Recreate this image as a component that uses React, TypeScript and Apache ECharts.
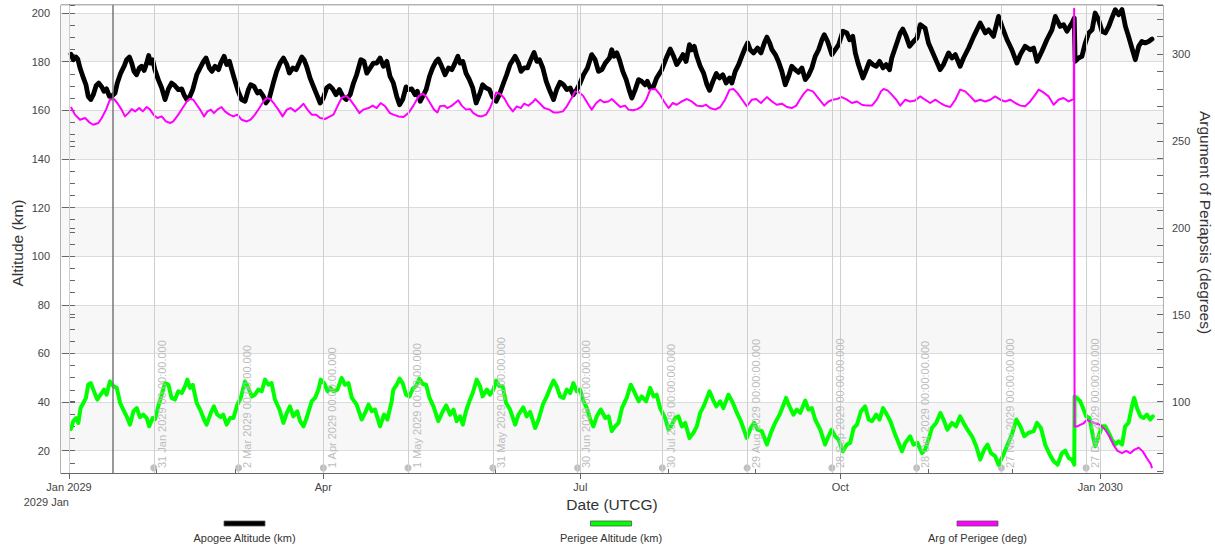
import React, { useEffect, useRef } from 'react';
import * as echarts from 'echarts';

const FONT = 'Arial, "Liberation Sans", Helvetica, sans-serif';

const SERIES_NAMES = ['Apogee Altitude (km)', 'Perigee Altitude (km)', 'Arg of Perigee (deg)'];
const SERIES_COLORS = ['#000000', '#00ff00', '#ff00ff'];

// x axis in days since 1 Jan 2029 00:00 UTCG
const X_MIN = -2.83;
const X_MAX = 387.2;
const QUARTER_DAYS = [0, 90, 181, 273, 365];
const QUARTER_LABELS = ['Jan 2029', 'Apr', 'Jul', 'Oct', 'Jan 2030'];
const YEAR_LABEL = '2029 Jan';
const MONTH_DAYS = [0, 31, 59, 90, 120, 151, 181, 212, 243, 273, 304, 334, 365];
const MARKER_DAYS = [30, 60, 90, 120, 150, 180, 210, 240, 270, 300, 330, 360];
const MARKER_LABELS = [
  '31 Jan 2029 00:00:00.000', '2 Mar 2029 00:00:00.000', '1 Apr 2029 00:00:00.000',
  '1 May 2029 00:00:00.000', '31 May 2029 00:00:00.000', '30 Jun 2029 00:00:00.000',
  '30 Jul 2029 00:00:00.000', '29 Aug 2029 00:00:00.000', '28 Sep 2029 00:00:00.000',
  '28 Oct 2029 00:00:00.000', '27 Nov 2029 00:00:00.000', '27 Dec 2029 00:00:00.000',
];
const CURRENT_DAY = 15.6;
const DOT_LEVEL = 12.9;

const ALT_MIN = 10.8;
const ALT_MAX = 203.3;
const ARG_MIN = 58.9;
const ARG_MAX = 328.2;

// [day, km]
const APOGEE = [
  [0.7,183.1],[1.5,180.8],[2.5,181.9],[3.1,181.1],[3.9,177.4],[5.1,173.3],[6.0,170.5],[6.8,165.7],[7.7,164.4],[8.6,166.4],[9.6,170.1],[10.5,171.2],[11.6,169.6],[12.4,167.8],[13.3,168.8],[14.3,165.7],[15.1,165.7],[16.3,167.1],[17.1,171.2],[18.3,175.3],[19.5,178.1],[20.4,180.8],[21.4,181.9],[22.2,179.4],[23.0,176.0],[23.9,174.6],[24.9,177.4],[25.7,178.1],[26.6,176.4],[27.5,179.4],[28.2,182.5],[28.9,179.4],[29.6,180.8],[30.4,176.7],[31.6,172.6],[32.8,169.2],[34.0,164.4],[35.2,168.8],[36.3,171.2],[37.5,170.1],[38.7,168.5],[39.9,168.8],[40.7,166.4],[41.7,164.4],[42.8,165.7],[43.8,168.5],[45.2,174.6],[46.4,177.4],[47.6,180.1],[48.5,181.5],[49.7,177.4],[50.6,176.0],[51.7,178.1],[52.9,176.7],[53.7,179.4],[54.9,182.2],[55.8,178.8],[56.8,180.1],[57.6,176.7],[58.8,171.9],[59.9,167.8],[61.1,164.4],[62.3,163.7],[63.5,168.5],[64.3,170.5],[65.5,169.8],[66.7,167.1],[67.6,167.8],[68.8,165.7],[69.7,163.0],[70.9,165.0],[72.3,171.2],[73.5,176.0],[74.7,179.4],[75.9,181.5],[77.1,178.8],[78.0,175.3],[79.2,177.4],[80.4,176.7],[81.2,178.8],[82.4,181.9],[83.2,180.8],[84.1,178.1],[85.3,173.3],[86.5,169.8],[87.7,166.4],[88.9,163.0],[90.0,165.0],[91.2,169.2],[92.2,170.1],[93.3,168.8],[94.5,166.4],[95.7,168.5],[96.9,165.7],[98.1,164.4],[99.5,166.4],[100.7,171.2],[101.8,174.6],[103.3,180.8],[104.4,180.1],[105.4,175.3],[106.6,177.4],[107.7,179.4],[108.9,179.4],[110.1,181.5],[111.3,178.1],[112.5,180.1],[113.6,174.0],
  [114.8,171.2],[116.0,165.7],[117.0,162.3],[118.1,164.4],[119.3,169.6],[120.1,168.5],[121.3,168.8],[122.5,166.4],[123.3,167.8],[124.3,163.7],[125.2,165.7],[126.4,168.5],[127.6,174.0],[128.7,177.4],[129.9,180.1],[130.7,181.1],[131.9,178.1],[133.1,174.6],[134.3,177.4],[135.5,176.7],[136.6,179.4],[137.6,182.2],[138.4,179.4],[139.4,180.1],[140.5,175.3],[141.7,172.6],[142.9,169.2],[144.1,163.0],[145.3,166.4],[146.4,170.5],[147.6,169.2],[148.8,168.5],[149.8,165.7],[151.2,163.7],[152.3,166.4],[153.8,171.2],[154.9,174.6],[156.1,178.8],[157.9,182.2],[159.1,179.4],[160.0,176.0],[161.1,177.4],[162.3,177.4],[163.2,180.1],[164.6,183.8],[165.6,180.1],[166.5,180.8],[167.7,177.4],[168.9,171.9],[170.0,168.5],[171.5,164.4],[172.6,168.5],[173.8,171.5],[175.0,170.5],[176.2,168.5],[177.4,169.2],[178.5,166.4],[179.7,168.5],[180.9,171.2],[182.1,174.6],[183.5,177.4],[185.0,182.9],[186.2,180.8],[187.4,176.0],[188.6,176.7],[189.8,179.4],[191.3,181.5],[192.1,184.9],[192.9,182.2],[193.9,183.6],[194.8,180.8],[196.0,176.0],[197.2,172.6],[198.4,167.8],[199.2,165.0],[200.4,168.5],[201.6,172.6],[202.7,171.9],[203.9,170.5],[204.7,171.9],[205.7,169.2],[206.9,169.8],[208.0,173.3],
  [209.8,176.7],[211.4,181.5],[212.8,185.2],[214.0,182.2],[215.1,178.8],[216.3,180.8],[217.3,182.9],[218.4,180.1],[219.6,187.0],[220.4,184.9],[221.3,186.3],[222.2,182.2],[223.4,178.1],[224.6,175.3],[225.8,170.5],[226.7,168.2],[227.9,171.9],[229.1,175.1],[230.2,173.3],[231.4,174.6],[232.6,171.2],[233.8,173.3],[234.6,171.2],[235.8,176.0],[237.0,178.8],[238.1,182.2],[239.3,185.6],[240.2,187.7],[241.1,184.9],[242.3,183.6],[243.7,185.6],[244.9,183.6],[246.1,187.7],[247.0,190.1],[248.0,187.7],[248.8,184.9],[250.0,182.9],[251.1,180.1],[252.3,176.0],[253.5,170.5],[254.7,174.0],[255.8,178.1],[257.0,176.7],[258.2,175.6],[259.4,177.4],[260.6,172.6],[261.7,174.3],[262.9,177.4],[264.1,182.2],[265.3,184.9],[266.5,189.0],[267.3,191.1],[268.5,188.3],[270.0,182.9],[271.2,184.9],[272.4,187.0],[273.9,192.5],[275.3,191.8],[276.3,189.0],[277.4,190.4],[278.3,183.6],[279.4,178.8],[281.0,173.3],[282.2,176.7],[283.3,180.1],[284.5,178.8],[285.7,178.1],[286.9,180.1],[288.1,177.4],[289.2,178.8],[290.4,176.7],[291.2,181.5],[293.0,187.7],[294.2,191.8],[295.1,193.4],[296.3,190.4],[297.5,186.3],[298.9,188.3],[300.1,189.7],[301.3,195.2],
  [303.0,193.8],[304.2,187.7],[306.0,182.9],[308.3,176.7],[309.5,178.8],[311.3,183.6],[312.5,181.5],[313.7,182.9],[315.4,178.1],[316.6,181.5],[318.4,185.6],[320.2,190.4],[322.5,195.9],[324.3,191.8],[325.5,193.1],[327.2,190.4],[329.0,198.6],[330.2,194.5],[332.0,189.0],[333.7,184.9],[335.5,179.4],[336.7,182.9],[338.4,186.3],[340.2,184.9],[341.4,185.6],[342.6,180.1],[344.3,184.2],[346.1,189.0],[347.9,193.1],[349.1,198.6],[350.8,194.5],[352.0,195.2],[353.2,192.5],[355.0,195.9],[355.8,197.9],[356.1,180.1],[357.3,181.5],[358.5,182.2],[359.7,187.7],[360.9,191.8],[362.1,193.1],[363.2,200.0],[364.4,197.3],[365.6,192.5],[366.8,191.8],[368.0,194.5],[369.1,197.9],[370.3,201.4],[371.5,199.3],[372.7,201.4],[373.9,194.5],[375.0,190.4],[376.2,185.6],[377.4,180.8],[378.6,186.3],[379.7,188.3],[380.9,187.7],[382.1,188.3],[383.3,189.3],
];

// [day, km]
const PERIGEE = [
  [0.7,28.9],[1.5,32.1],[2.5,33.4],[3.3,31.4],[4.1,37.5],[5.1,39.6],[6.0,41.7],[6.8,47.1],[7.7,47.8],[8.6,45.1],[10.0,41.0],[11.2,43.0],[12.4,45.1],[13.3,43.0],[14.5,48.5],[15.7,46.5],[16.9,45.8],[18.1,39.6],[19.2,36.9],[20.4,34.1],[21.6,30.7],[22.8,36.2],[24.0,37.5],[25.1,33.8],[26.3,34.8],[27.5,33.4],[28.4,30.0],[29.6,33.4],[30.4,32.8],[31.6,38.2],[32.8,43.0],[34.0,47.8],[35.2,47.1],[36.3,41.7],[37.5,41.0],[38.7,44.4],[39.9,43.7],[41.1,46.5],[41.9,49.2],[42.8,45.8],[43.8,47.1],[45.2,39.6],[46.4,36.9],[47.8,32.8],[48.7,30.7],[50.2,35.5],[51.3,38.2],[52.5,34.8],[53.7,33.8],[54.6,34.8],[55.8,30.7],[57.0,33.4],[58.2,33.4],[59.6,38.9],[60.8,41.7],[62.3,48.5],[63.5,45.8],[64.7,42.3],[65.8,43.0],[67.0,45.1],[68.2,44.4],[69.4,49.2],[70.6,47.1],[71.7,47.8],[72.9,41.0],[74.5,36.9],[75.9,31.4],[77.1,35.5],[78.2,38.2],[79.4,34.1],[80.8,36.2],[81.8,32.1],[83.0,30.0],[84.1,33.4],[85.9,40.3],[87.1,41.7],[88.3,45.1],[89.1,49.2],[90.3,47.8],[91.5,44.4],[92.6,45.8],[93.6,44.4],[95.0,45.1],[96.5,49.9],[97.7,47.1],[98.9,47.8],[100.1,41.7],[101.8,38.9],[103.6,32.8],[104.8,35.5],[106.0,38.9],[107.2,36.2],[108.3,36.9],[110.1,30.0],[111.5,34.8],[112.7,32.8],
  [114.2,40.3],[114.8,45.1],[116.0,47.1],[117.0,49.6],[118.1,47.8],[119.3,43.0],[120.5,42.3],[121.7,45.5],[122.8,46.5],[124.0,49.6],[125.2,47.4],[126.4,47.1],[127.6,41.7],[129.0,38.2],[130.7,32.1],[132.3,36.2],[133.5,38.6],[134.9,34.8],[136.1,36.9],[137.2,32.1],[138.4,34.1],[139.4,30.7],[140.5,36.2],[141.7,40.3],[142.9,43.7],[144.3,49.2],[145.5,46.5],[146.4,42.3],[147.9,45.1],[149.0,43.0],[150.2,45.1],[151.2,48.8],[152.3,46.5],[153.5,46.5],[154.7,39.6],[156.1,36.9],[157.9,30.7],[159.1,34.8],[160.8,37.8],[162.0,34.1],[163.2,35.9],[165.0,29.3],[166.2,32.8],[167.7,38.9],[169.1,42.3],[170.3,45.8],[171.5,48.8],[172.6,46.5],[173.8,42.3],[175.0,41.7],[176.2,45.1],[177.4,43.7],[178.5,47.8],[179.7,44.4],[180.9,45.1],[182.1,40.3],[183.3,37.5],[184.5,32.8],[185.6,30.0],[186.8,34.1],[188.2,36.9],[189.8,33.4],[191.0,34.1],[192.1,28.0],[193.3,30.0],[194.5,31.4],[195.7,37.5],[197.4,41.7],[198.8,47.1],[200.0,44.4],[201.6,40.3],[202.7,42.3],[204.3,40.3],
  [205.7,45.8],[206.9,42.3],[208.0,43.0],[209.2,37.5],[211.0,33.4],[212.2,28.6],[213.4,30.7],[214.5,33.4],[215.7,34.1],[216.9,30.0],[218.1,31.4],[219.6,25.2],[221.0,27.3],[222.2,30.0],[223.4,35.5],[224.6,38.2],[225.8,41.7],[226.7,44.4],[227.9,41.0],[229.1,38.2],[230.5,40.3],[231.6,37.5],[233.4,43.0],[235.0,39.6],[236.4,35.5],[237.8,32.1],[239.9,25.2],[241.3,29.3],[242.5,31.4],[243.7,28.6],[245.2,28.0],[247.0,22.5],[248.4,27.3],[249.9,31.4],[251.5,34.8],[252.9,38.9],[253.8,41.7],[255.0,38.2],[256.4,34.8],[257.6,36.9],[258.8,35.5],[260.6,40.6],[261.7,36.9],[262.9,37.5],[264.1,32.8],[265.9,28.6],[267.6,22.5],[268.8,25.9],[269.9,28.6],[271.2,25.9],[272.4,24.5],[273.9,19.7],[275.3,22.5],[276.5,23.2],[277.7,29.3],[278.9,30.7],[280.3,36.2],[281.8,38.2],[283.0,32.8],[284.2,32.1],[285.7,34.8],[286.9,32.8],[288.1,37.5],[289.5,34.8],[290.7,32.1],[292.4,26.6],[293.6,23.2],[294.8,19.7],[296.0,23.2],
  [297.7,25.9],[298.9,22.5],[300.3,23.2],[301.9,19.0],[303.0,20.4],[304.2,24.5],[305.4,29.3],[306.9,31.4],[308.4,35.5],[309.5,32.8],[310.9,28.6],[312.5,31.4],[314.0,30.0],[315.4,34.1],[316.6,31.4],[318.0,28.6],[319.6,25.9],[321.1,21.8],[322.5,16.3],[323.9,20.4],[325.1,22.5],[326.3,19.0],[327.8,17.7],[329.0,14.2],[330.5,17.7],[332.2,22.5],[333.7,26.6],[335.3,32.8],[336.7,30.0],[338.1,25.9],[339.6,27.3],[341.4,28.0],[342.6,31.4],[344.0,29.3],[345.5,22.5],[347.1,18.4],[348.5,15.6],[349.9,14.2],[351.4,19.0],[352.6,20.0],[353.8,17.0],[355.0,16.3],[355.8,14.2],[355.9,42.3],[356.7,41.7],[357.9,40.3],[358.9,37.5],[360.0,34.1],[361.2,33.4],[362.4,25.9],[363.2,21.8],[364.4,25.9],[365.6,30.0],[366.8,30.0],[368.0,27.3],[369.1,24.5],[370.3,22.5],[371.5,23.8],[372.7,22.5],[373.8,30.0],[375.0,31.4],[376.2,38.2],[377.0,41.7],[378.0,37.5],[379.2,34.1],[380.3,33.4],[381.5,34.8],[382.7,32.8],[383.6,34.1],
];

// [day, deg]
const ARG_PERIGEE = [
  [0.7,269.5],[2.1,265.1],[3.9,262.2],[5.7,263.2],[7.2,260.7],[8.6,259.3],[10.4,260.3],[11.6,263.2],[13.1,268.0],[14.5,273.7],[15.9,274.1],[17.1,271.8],[18.6,268.0],[19.8,264.1],[21.0,266.0],[22.2,268.3],[23.4,267.0],[24.9,268.9],[26.1,267.0],[27.5,269.5],[28.7,268.0],[29.9,265.1],[31.3,263.2],[32.8,264.1],[34.3,261.2],[35.8,260.3],[36.9,261.2],[38.7,265.1],[40.2,268.9],[41.7,272.7],[42.8,274.3],[44.0,273.7],[45.2,270.8],[46.4,268.0],[47.8,264.1],[49.0,267.0],[50.2,268.0],[51.3,266.0],[52.5,268.0],[54.0,269.5],[55.2,267.0],[56.8,265.1],[58.2,264.1],[59.6,265.1],[61.1,262.2],[62.9,261.2],[64.3,262.2],[65.8,265.1],[67.4,268.9],[68.8,272.7],[70.0,274.7],[71.2,274.1],[72.6,271.4],[74.1,268.0],[75.6,264.1],[77.1,268.0],[78.5,268.9],[80.0,267.0],[81.5,268.9],[83.0,271.4],[84.4,268.0],[85.9,265.1],[87.5,265.1],[88.9,263.2],[90.6,262.6],[92.4,264.1],[93.6,265.1],[95.0,269.9],[96.5,274.7],[98.1,276.0],[99.5,273.7],[101.2,269.9],[102.8,266.0],[104.2,268.0],[106.0,268.9],[107.5,270.3],[108.9,268.9],[110.3,271.8],[111.9,269.9],
  [113.6,266.0],[114.8,265.1],[116.6,264.1],[118.4,263.7],[120.1,266.0],[121.9,270.3],[123.7,275.6],[125.2,277.2],[126.4,275.6],[127.8,271.8],[129.2,268.0],[130.4,266.4],[131.3,269.9],[132.8,270.3],[133.9,268.9],[135.5,270.3],[136.6,271.8],[137.8,273.3],[139.0,270.3],[140.5,268.0],[142.0,268.3],[143.1,266.0],[144.6,264.5],[146.1,264.1],[147.6,265.1],[149.0,268.9],[150.2,273.7],[151.2,277.9],[152.6,277.0],[154.0,274.7],[155.5,270.3],[157.1,267.0],[158.5,269.9],[159.9,268.9],[161.1,271.4],[162.6,270.3],[164.1,272.2],[165.0,274.1],[166.5,271.8],[168.2,268.9],[170.0,268.0],[171.5,266.4],[173.2,266.4],[174.8,267.0],[176.2,269.9],[177.9,274.7],[179.1,278.5],[180.7,277.9],[182.1,275.6],[183.5,271.8],[185.0,268.0],[186.6,271.8],[188.0,273.7],[189.4,272.2],[190.9,272.7],[192.1,274.1],[193.6,271.8],[195.1,269.5],[196.8,270.3],[198.0,268.0],[199.6,267.6],[201.2,268.3],[202.7,269.9],[204.3,273.7],
  [205.7,279.5],[207.5,279.9],[209.2,276.6],[210.6,272.7],[212.2,268.9],[213.7,271.8],[215.1,270.8],[216.9,272.7],[218.7,274.1],[220.4,272.7],[222.2,270.3],[224.0,269.9],[225.5,270.8],[226.9,268.9],[228.7,268.0],[230.5,269.5],[232.2,273.7],[233.8,279.5],[235.2,279.9],[236.6,277.5],[238.1,274.1],[239.9,269.9],[241.7,273.7],[243.2,274.1],[244.9,271.8],[247.0,275.2],[248.8,272.7],[250.5,270.8],[252.3,271.4],[254.1,269.5],[255.8,268.9],[257.4,270.3],[258.8,274.1],[260.2,277.5],[261.4,279.5],[263.3,278.5],[264.7,275.6],[266.1,272.7],[267.3,270.3],[268.8,272.7],[270.3,273.7],[271.8,274.1],[273.5,275.2],[275.3,273.7],[277.1,271.8],[278.9,272.7],[280.6,270.8],[282.4,270.3],[284.2,270.3],[285.9,273.7],[287.4,278.5],[288.3,279.9],[289.7,279.1],[291.2,276.6],[292.8,273.7],
  [294.2,270.3],[296.0,273.7],[297.7,272.7],[299.5,273.3],[301.3,275.6],[303.0,273.7],[304.8,271.8],[306.6,273.7],[308.4,271.8],[310.1,270.3],[311.9,269.5],[313.7,273.7],[315.4,279.5],[317.2,278.5],[319.0,275.6],[320.7,272.7],[322.5,273.7],[324.3,272.7],[326.1,273.7],[327.8,275.6],[329.6,273.7],[331.4,272.7],[333.1,273.7],[334.9,271.8],[336.7,270.3],[338.4,269.9],[340.2,272.7],[342.0,276.6],[343.2,279.5],[344.9,277.9],[346.7,275.6],[348.5,270.8],[350.2,273.7],[352.0,274.7],[353.8,272.7],[355.6,274.1],[355.75,326.0],[355.9,85.6],[356.7,85.6],[357.9,86.6],[359.1,87.5],[360.3,89.5],[361.5,88.5],[363.2,87.5],[365.0,86.6],[366.8,83.7],[368.3,79.9],[369.7,75.0],[371.1,71.6],[372.7,70.3],[374.2,71.6],[375.6,70.3],[377.0,72.2],[378.6,73.5],[380.1,71.2],[381.5,67.4],[382.9,64.0],[383.3,61.6],
];

const LEGEND_CENTERS = [244.5, 611, 977.5];

const labelStyle = { color: '#444', fontSize: 11, fontFamily: FONT };
const nameStyle = { color: '#333', fontSize: 15.5, fontFamily: FONT };
const axisColor = '#666';

function buildOption() {
  const guideLine = { color: '#cfcfcf', width: 1, type: 'solid' };
  const markData = [
    ...QUARTER_DAYS.map((d) => ({ xAxis: d, lineStyle: guideLine, label: { show: false } })),
    ...MARKER_DAYS.map((d, i) => ({
      xAxis: d,
      lineStyle: guideLine,
      label: {
        show: true,
        formatter: MARKER_LABELS[i],
        position: 'insideStartBottom',
        distance: [5, 3],
        color: '#bdbdbd',
        fontSize: 11,
        fontFamily: FONT,
      },
    })),
    { xAxis: CURRENT_DAY, lineStyle: { color: '#777', width: 1.5, type: 'solid' }, label: { show: false } },
  ];

  const xBase = { type: 'value', min: X_MIN, max: X_MAX, position: 'bottom', splitLine: { show: false } };
  const leftBase = { type: 'value', min: ALT_MIN, max: ALT_MAX, position: 'left' };
  const rightBase = { type: 'value', min: ARG_MIN, max: ARG_MAX, position: 'right' };

  return {
    animation: false,
    backgroundColor: '#ffffff',
    grid: {
      left: 61, right: 52, top: 5, bottom: 75,
      show: true, borderColor: '#666', borderWidth: 1, backgroundColor: 'transparent',
      containLabel: false, outerBoundsMode: 'none',
    },
    xAxis: [
      {
        ...xBase,
        axisLine: { show: true, lineStyle: { color: axisColor } },
        axisTick: { show: true, customValues: QUARTER_DAYS, length: 6, lineStyle: { color: axisColor } },
        axisLabel: {
          ...labelStyle,
          customValues: QUARTER_DAYS,
          margin: 8,
          formatter: (v: number) => {
            const i = QUARTER_DAYS.indexOf(Math.round(v));
            return i >= 0 ? QUARTER_LABELS[i] : '';
          },
        },
        name: 'Date (UTCG)', nameLocation: 'middle', nameGap: 23, nameTextStyle: nameStyle, nameMoveOverlap: false,
      },
      {
        ...xBase,
        axisLine: { show: false },
        axisTick: { show: false },
        axisLabel: { ...labelStyle, customValues: [QUARTER_DAYS[0]], formatter: () => YEAR_LABEL, align: 'right', margin: 23 },
      },
      {
        ...xBase,
        axisLine: { show: false },
        axisTick: { show: true, inside: true, customValues: MONTH_DAYS, length: 4, lineStyle: { color: axisColor } },
        axisLabel: { show: false },
      },
    ],
    yAxis: [
      {
        ...leftBase,
        minInterval: 20, maxInterval: 20, splitNumber: 10,
        axisLine: { show: true, lineStyle: { color: axisColor } },
        axisTick: { show: true, length: 7, lineStyle: { color: axisColor } },
        axisLabel: { ...labelStyle, margin: 11, showMinLabel: false, showMaxLabel: false },
        splitLine: { show: true, lineStyle: { color: '#dcdcdc' } },
        splitArea: { show: true, areaStyle: { color: ['#ffffff', '#f7f7f7'] } },
        name: 'Altitude (km)', nameLocation: 'middle', nameGap: 36,
        nameTextStyle: { ...nameStyle, padding: [0, 8, 0, 0] }, nameMoveOverlap: false,
      },
      {
        ...rightBase,
        minInterval: 50, maxInterval: 50, splitNumber: 6,
        axisLine: { show: true, lineStyle: { color: axisColor } },
        axisTick: { show: true, length: 6, lineStyle: { color: axisColor } },
        axisLabel: { ...labelStyle, margin: 9, showMinLabel: false, showMaxLabel: false },
        splitLine: { show: false },
        name: 'Argument of Periapsis (degrees)', nameLocation: 'middle', nameRotate: -90, nameGap: 34,
        nameTextStyle: { ...nameStyle, padding: [0, 33, 0, 0] }, nameMoveOverlap: false,
      },
      {
        ...leftBase,
        minInterval: 5, maxInterval: 5, splitNumber: 40,
        axisLine: { show: false },
        axisTick: { show: true, inside: true, length: 6, lineStyle: { color: axisColor } },
        axisLabel: { show: false },
        splitLine: { show: false },
      },
      {
        ...rightBase,
        minInterval: 10, maxInterval: 10, splitNumber: 27,
        axisLine: { show: false },
        axisTick: { show: true, inside: true, length: 6, lineStyle: { color: axisColor } },
        axisLabel: { show: false },
        splitLine: { show: false },
      },
    ],
    series: [
      {
        name: 'guides', type: 'line', data: [], xAxisIndex: 0, yAxisIndex: 0, silent: true,
        markLine: { silent: true, symbol: ['none', 'none'], animation: false, data: markData },
      },
      {
        name: SERIES_NAMES[0], type: 'line', data: APOGEE, xAxisIndex: 0, yAxisIndex: 0,
        showSymbol: false, symbol: 'none', lineStyle: { color: SERIES_COLORS[0], width: 4.8, join: 'round', cap: 'round' },
        itemStyle: { color: SERIES_COLORS[0] },
      },
      {
        name: SERIES_NAMES[1], type: 'line', data: PERIGEE, xAxisIndex: 0, yAxisIndex: 0,
        showSymbol: false, symbol: 'none', lineStyle: { color: SERIES_COLORS[1], width: 4, join: 'round', cap: 'round' },
        itemStyle: { color: SERIES_COLORS[1] },
      },
      {
        name: SERIES_NAMES[2], type: 'line', data: ARG_PERIGEE, xAxisIndex: 0, yAxisIndex: 1,
        showSymbol: false, symbol: 'none', lineStyle: { color: SERIES_COLORS[2], width: 2, join: 'round' },
        itemStyle: { color: SERIES_COLORS[2] },
      },
      {
        name: 'markers', type: 'scatter', xAxisIndex: 0, yAxisIndex: 0, silent: true,
        data: MARKER_DAYS.map((d) => [d, DOT_LEVEL]),
        symbol: 'circle', symbolSize: 7, itemStyle: { color: '#b0b0b0' },
      },
    ],
    graphic: SERIES_NAMES.map((name, i) => ({
      type: 'group',
      x: LEGEND_CENTERS[i],
      y: 521,
      silent: true,
      children: [
        {
          type: 'rect',
          shape: { x: -20.5, y: 0, width: 41, height: 5 },
          style: { fill: SERIES_COLORS[i], stroke: '#555', lineWidth: 0.8 },
        },
        {
          type: 'text',
          x: 0,
          y: 17,
          style: {
            text: name, align: 'center', verticalAlign: 'middle',
            fill: '#333', fontSize: 11, fontFamily: FONT,
          },
        },
      ],
    })),
  };
}

export default function App() {
  const ref = useRef<HTMLDivElement>(null);
  useEffect(() => {
    document.body.style.margin = '0';
    if (!ref.current) return;
    const chart = echarts.init(ref.current, null, { renderer: 'svg' });
    chart.setOption(buildOption() as any);
    return () => chart.dispose();
  }, []);
  return <div ref={ref} style={{ width: 1215, height: 548 }} />;
}
